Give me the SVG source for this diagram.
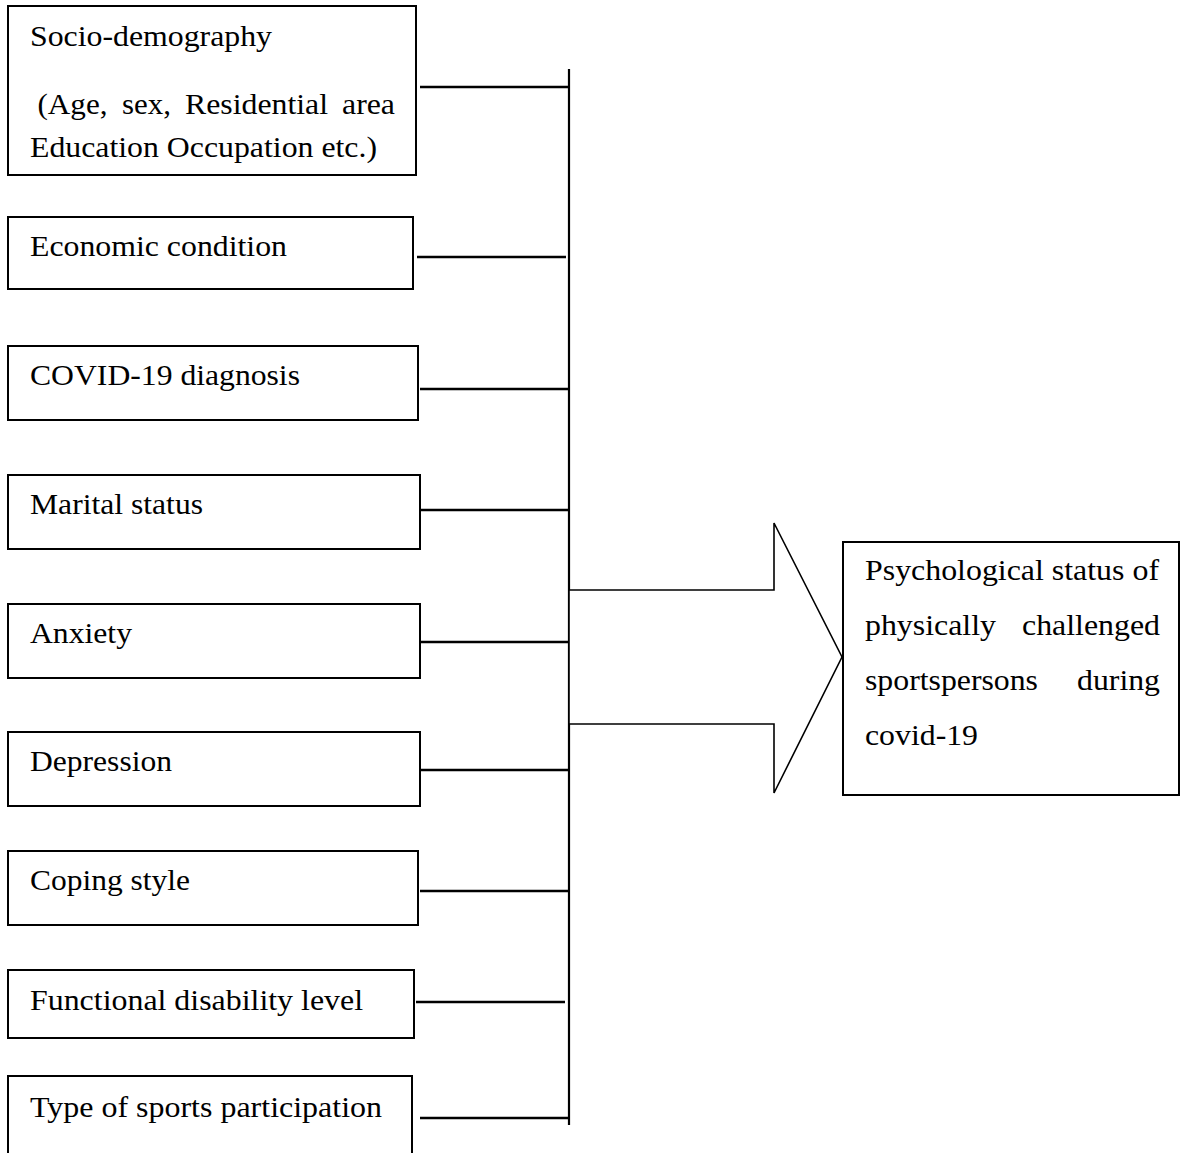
<svg xmlns="http://www.w3.org/2000/svg" width="1180" height="1153" viewBox="0 0 1180 1153">
<style>
.box{fill:#fff;stroke:#000;stroke-width:2}
.t{font-family:"Liberation Serif","Times New Roman",serif;font-size:30px;fill:#000}
.c{stroke:#000;stroke-width:2.6;fill:none}
.v{stroke:#000;stroke-width:2.2;fill:none}
.arrow{fill:#fff;stroke:#000;stroke-width:1.6}
</style>
<rect width="1180" height="1153" fill="#fff"/>
<g id="connectors">
<line class="v" x1="569" y1="69" x2="569" y2="1125"/>
<line class="c" x1="420" y1="87" x2="568" y2="87"/>
<line class="c" x1="417" y1="257" x2="566" y2="257"/>
<line class="c" x1="420" y1="389" x2="568" y2="389"/>
<line class="c" x1="420" y1="510" x2="568" y2="510"/>
<line class="c" x1="420" y1="642" x2="568" y2="642"/>
<line class="c" x1="420" y1="770" x2="568" y2="770"/>
<line class="c" x1="420" y1="891" x2="568" y2="891"/>
<line class="c" x1="416" y1="1002" x2="565" y2="1002"/>
<line class="c" x1="420" y1="1118" x2="568" y2="1118"/>
<polygon id="arrow" class="arrow" points="569,590 774,590 774,523 842,657 774,793 774,724 569,724"/>
</g>
<g id="n1">
<rect class="box" x="8" y="6" width="408" height="169"/>
<text class="t" x="30" y="46" textLength="242" lengthAdjust="spacingAndGlyphs">Socio-demography</text>
<text class="t" x="37.5" y="114" textLength="70" lengthAdjust="spacingAndGlyphs">(Age,</text>
<text class="t" x="122" y="114" textLength="49" lengthAdjust="spacingAndGlyphs">sex,</text>
<text class="t" x="185" y="114" textLength="143" lengthAdjust="spacingAndGlyphs">Residential</text>
<text class="t" x="342" y="114" textLength="53" lengthAdjust="spacingAndGlyphs">area</text>
<text class="t" x="30" y="157" textLength="347" lengthAdjust="spacingAndGlyphs">Education Occupation etc.)</text>
</g>
<g id="n2">
<rect class="box" x="8" y="217" width="405" height="72"/>
<text class="t" x="30" y="256" textLength="257" lengthAdjust="spacingAndGlyphs">Economic condition</text>
</g>
<g id="n3">
<rect class="box" x="8" y="346" width="410" height="74"/>
<text class="t" x="30" y="385" textLength="270" lengthAdjust="spacingAndGlyphs">COVID-19 diagnosis</text>
</g>
<g id="n4">
<rect class="box" x="8" y="475" width="412" height="74"/>
<text class="t" x="30" y="514" textLength="173" lengthAdjust="spacingAndGlyphs">Marital status</text>
</g>
<g id="n5">
<rect class="box" x="8" y="604" width="412" height="74"/>
<text class="t" x="30" y="643" textLength="102" lengthAdjust="spacingAndGlyphs">Anxiety</text>
</g>
<g id="n6">
<rect class="box" x="8" y="732" width="412" height="74"/>
<text class="t" x="30" y="771" textLength="142" lengthAdjust="spacingAndGlyphs">Depression</text>
</g>
<g id="n7">
<rect class="box" x="8" y="851" width="410" height="74"/>
<text class="t" x="30" y="890" textLength="160" lengthAdjust="spacingAndGlyphs">Coping style</text>
</g>
<g id="n8">
<rect class="box" x="8" y="970" width="406" height="68"/>
<text class="t" x="30" y="1010" textLength="333" lengthAdjust="spacingAndGlyphs">Functional disability level</text>
</g>
<g id="n9">
<rect class="box" x="8" y="1076" width="404" height="90"/>
<text class="t" x="30" y="1117" textLength="352" lengthAdjust="spacingAndGlyphs">Type of sports participation</text>
</g>
<g id="n10">
<rect class="box" x="843" y="542" width="336" height="253"/>
<text class="t" x="865" y="580" textLength="294" lengthAdjust="spacingAndGlyphs">Psychological status of</text>
<text class="t" x="865" y="635" textLength="131" lengthAdjust="spacingAndGlyphs">physically</text>
<text class="t" x="1022" y="635" textLength="138" lengthAdjust="spacingAndGlyphs">challenged</text>
<text class="t" x="865" y="690" textLength="173" lengthAdjust="spacingAndGlyphs">sportspersons</text>
<text class="t" x="1077" y="690" textLength="83" lengthAdjust="spacingAndGlyphs">during</text>
<text class="t" x="865" y="745" textLength="113" lengthAdjust="spacingAndGlyphs">covid-19</text>
</g>
</svg>
